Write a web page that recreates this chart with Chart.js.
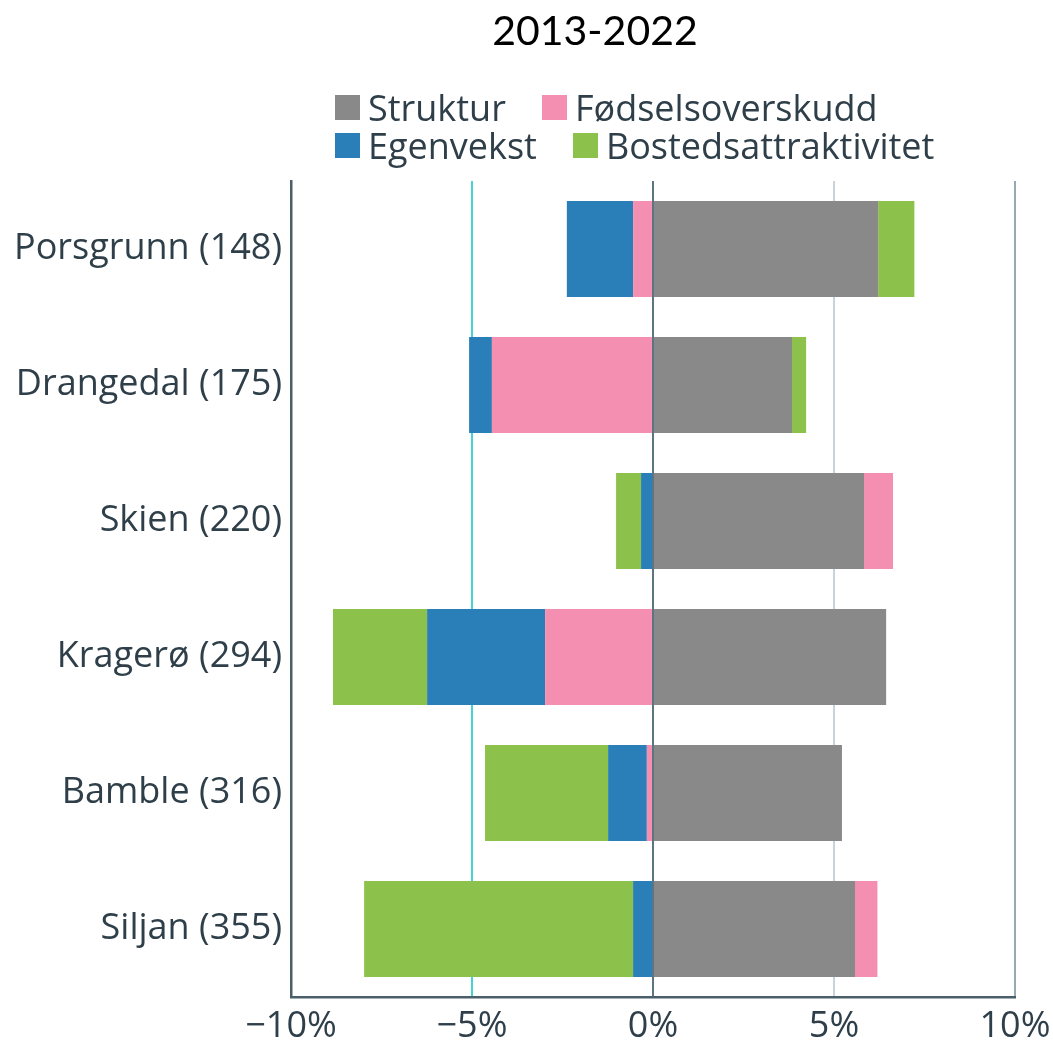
<!DOCTYPE html>
<html>
<head>
<meta charset="utf-8">
<script src="https://cdn.jsdelivr.net/npm/chart.js@4/dist/chart.umd.min.js"></script>
<style>
  html, body { margin: 0; padding: 0; background: #fff; }
  #wrap { position: relative; width: 1053px; height: 1041px; }
  canvas { position: absolute; left: 0; top: 0; }
  #title { position: absolute; left: 395px; width: 400px; top: 5px; text-align: center; font-family: Lato, sans-serif; font-size: 41px; line-height: 50px; color: #000; }
  #legend { position: absolute; left: 335px; top: 88px; font-family: "Open Sans", sans-serif; font-size: 36px; color: #2f3f4a; }
  .row { display: flex; align-items: center; height: 38px; white-space: nowrap; }
  .item { display: flex; align-items: center; margin-right: 36px; }
  .sw { width: 25px; height: 25px; margin-right: 8px; }
</style>
</head>
<body>
<div id="wrap">
  <canvas id="c" width="1053" height="1041"></canvas>
  <div id="title"></div>
  <div id="legend"></div>
</div>
<script>
const categories = ['Porsgrunn (148)', 'Drangedal (175)', 'Skien (220)', 'Kragerø (294)', 'Bamble (316)', 'Siljan (355)'];
const struktur = [6.22, 3.84, 5.83, 6.44, 5.22, 5.58];
const fodselsoverskudd = [-0.55, -4.45, 0.80, -2.98, -0.17, 0.62];
const egenvekst = [-1.83, -0.63, -0.33, -3.26, -1.07, -0.55];
const bostedsattraktivitet = [1.00, 0.39, -0.69, -2.60, -3.40, -7.43];
const tickValues = [-10, -5, 0, 5, 10];
const tickLabels = ['\u221210%', '\u22125%', '0%', '5%', '10%'];
const seriesNames = ['Struktur', 'Fødselsoverskudd', 'Egenvekst', 'Bostedsattraktivitet'];
const seriesColors = ['#898989', '#f48fb1', '#2a7fb8', '#8cc24b'];
const titleText = '2013-2022';

const gridColors = { '-10': '#4b5f6b', '-5': '#45d3da', '0': '#5d7483', '5': '#c9d3d9', '10': '#94a9b4' };
const textColor = '#2f3f4a';

document.getElementById('title').textContent = titleText;

// legend (2 rows)
const legendRows = [[0, 1], [2, 3]];
const legendEl = document.getElementById('legend');
legendRows.forEach(r => {
  const row = document.createElement('div');
  row.className = 'row';
  r.forEach(i => {
    const it = document.createElement('div');
    it.className = 'item';
    const sw = document.createElement('span');
    sw.className = 'sw';
    sw.style.background = seriesColors[i];
    const tx = document.createElement('span');
    tx.textContent = seriesNames[i];
    it.appendChild(sw); it.appendChild(tx);
    row.appendChild(it);
  });
  legendEl.appendChild(row);
});

function build() {
  const values = [struktur, fodselsoverskudd, egenvekst, bostedsattraktivitet];
  new Chart(document.getElementById('c'), {
    type: 'bar',
    data: {
      labels: categories,
      datasets: values.map((v, i) => ({
        label: seriesNames[i],
        data: v,
        backgroundColor: seriesColors[i],
        borderWidth: 0,
        categoryPercentage: 1,
        barPercentage: 0.706
      }))
    },
    options: {
      indexAxis: 'y',
      responsive: false,
      animation: false,
      layout: { padding: { left: 0, right: 0, top: 181, bottom: 0 } },
      plugins: {
        legend: { display: false },
        tooltip: { enabled: false },
        title: { display: false }
      },
      scales: {
        x: {
          type: 'linear',
          stacked: true,
          min: -10, max: 10,
          afterBuildTicks: s => { s.ticks = tickValues.map(v => ({ value: v })); },
          afterFit: s => { s.height = 44; s.paddingRight = 38; s.paddingLeft = 0; },
          ticks: {
            padding: 8,
            color: textColor,
            font: { family: 'Open Sans', size: 36 },
            callback: v => tickLabels[tickValues.indexOf(v)]
          },
          grid: {
            drawTicks: false,
            lineWidth: 2,
            color: ctx => gridColors[String(ctx.tick ? ctx.tick.value : 0)] || '#ccc'
          },
          border: { display: true, color: '#4b5f6b', width: 2.5 }
        },
        y: {
          stacked: true,
          afterFit: s => { s.width = 291; },
          ticks: {
            padding: 9,
            color: textColor,
            font: { family: 'Open Sans', size: 36 }
          },
          grid: { display: false, drawTicks: false },
          border: { display: true, color: '#4b5f6b', width: 2.5 }
        }
      }
    }
  });
}

Promise.all([
  document.fonts.load('36px "Open Sans"'),
  document.fonts.load('40px Lato')
]).then(build, build);
</script>
</body>
</html>
